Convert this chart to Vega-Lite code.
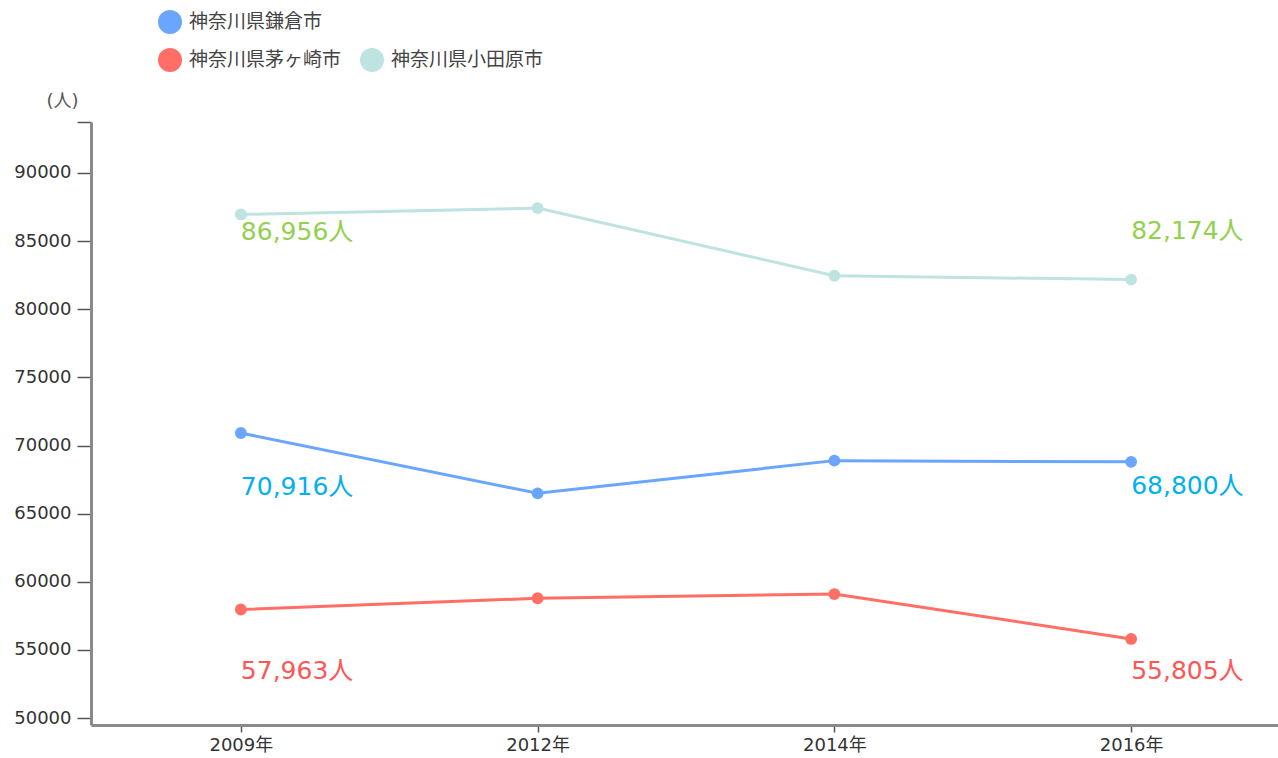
{
  "$schema": "https://vega.github.io/schema/vega-lite/v6.json",
  "width": 1190,
  "height": 603,
  "autosize": {"type": "none"},
  "padding": {"left": 91, "top": 122, "right": 0, "bottom": 33},
  "background": "white",
  "config": {
    "view": {"stroke": null},
    "axis": {"grid": false},
    "legend": {"padding": 0}
  },
  "data": {
    "values": [
      {"year": "2009年", "series": "神奈川県鎌倉市", "value": 70916},
      {"year": "2012年", "series": "神奈川県鎌倉市", "value": 66490},
      {"year": "2014年", "series": "神奈川県鎌倉市", "value": 68890},
      {"year": "2016年", "series": "神奈川県鎌倉市", "value": 68800},
      {"year": "2009年", "series": "神奈川県茅ヶ崎市", "value": 57963},
      {"year": "2012年", "series": "神奈川県茅ヶ崎市", "value": 58790},
      {"year": "2014年", "series": "神奈川県茅ヶ崎市", "value": 59100},
      {"year": "2016年", "series": "神奈川県茅ヶ崎市", "value": 55805},
      {"year": "2009年", "series": "神奈川県小田原市", "value": 86956},
      {"year": "2012年", "series": "神奈川県小田原市", "value": 87420},
      {"year": "2014年", "series": "神奈川県小田原市", "value": 82460},
      {"year": "2016年", "series": "神奈川県小田原市", "value": 82174}
    ]
  },
  "transform": [
    {"calculate": "format(datum.value, ',') + '人'", "as": "label"},
    {"calculate": "datum.series", "as": "city"}
  ],
  "encoding": {
    "x": {
      "field": "year",
      "type": "ordinal",
      "sort": ["2009年", "2012年", "2014年", "2016年"],
      "scale": {"type": "point", "padding": 0.505},
      "axis": {
        "title": null,
        "labelAngle": 0,
        "labelFont": "DejaVu Sans, Noto Sans CJK JP",
        "labelFontSize": 18,
        "labelColor": "#333333",
        "labelPadding": 4,
        "tickSize": 7,
        "tickColor": "#555555",
        "tickWidth": 1.5,
        "domainColor": "#8a8a8a",
        "domainWidth": 3
      }
    },
    "y": {
      "field": "value",
      "type": "quantitative",
      "scale": {"domain": [49490, 93740], "nice": false, "zero": false},
      "axis": {
        "title": "(人)",
        "titleAngle": 0,
        "titleX": -29,
        "titleY": -21,
        "titleAlign": "center",
        "titleBaseline": "middle",
        "titleFont": "DejaVu Sans, Noto Sans CJK JP",
        "titleFontSize": 18,
        "titleFontWeight": "normal",
        "titleColor": "#555555",
        "values": [50000, 55000, 60000, 65000, 70000, 75000, 80000, 85000, 90000, 93740],
        "labelExpr": "datum.value > 91000 ? '' : format(datum.value, 'd')",
        "labelFont": "DejaVu Sans",
        "labelFontSize": 18,
        "labelColor": "#333333",
        "labelPadding": 6,
        "tickSize": 14,
        "tickColor": "#555555",
        "tickWidth": 1.5,
        "domainColor": "#8a8a8a",
        "domainWidth": 3
      }
    }
  },
  "layer": [
    {
      "mark": {"type": "line", "strokeWidth": 3},
      "encoding": {
        "stroke": {
          "field": "series",
          "type": "nominal",
          "scale": {
            "domain": ["神奈川県鎌倉市", "神奈川県茅ヶ崎市", "神奈川県小田原市"],
            "range": ["#6aa5ff", "#ff6f66", "#bfe3e0"]
          },
          "legend": {
            "values": ["神奈川県鎌倉市"],
            "title": null,
            "orient": "none",
            "legendX": 67,
            "legendY": -112,
            "symbolType": "circle",
            "symbolSize": 576,
            "symbolFillColor": "#6aa5ff",
            "symbolStrokeWidth": 0,
            "labelFont": "Noto Sans CJK JP",
            "labelFontSize": 19,
            "labelColor": "#444444",
            "labelOffset": 7
          }
        }
      }
    },
    {
      "mark": {"type": "point", "filled": true, "size": 140, "opacity": 1},
      "encoding": {
        "fill": {
          "field": "city",
          "type": "nominal",
          "scale": {
            "domain": ["神奈川県茅ヶ崎市", "神奈川県小田原市", "神奈川県鎌倉市"],
            "range": ["#ff6f66", "#bfe3e0", "#6aa5ff"]
          },
          "legend": {
            "values": ["神奈川県茅ヶ崎市", "神奈川県小田原市"],
            "title": null,
            "orient": "none",
            "direction": "horizontal",
            "legendX": 67,
            "legendY": -74,
            "symbolType": "circle",
            "symbolSize": 576,
            "symbolStrokeWidth": 0,
            "symbolOpacity": 1,
            "columnPadding": 18,
            "labelFont": "Noto Sans CJK JP",
            "labelFontSize": 19,
            "labelColor": "#444444",
            "labelOffset": 7
          }
        }
      }
    },
    {
      "transform": [{"filter": "datum.series === '神奈川県小田原市' && datum.year === '2009年'"}],
      "mark": {"type": "text", "align": "left", "baseline": "middle", "font": "DejaVu Sans, Noto Sans CJK JP", "fontSize": 25, "dy": 18, "color": "#92d050"},
      "encoding": {"text": {"field": "label"}}
    },
    {
      "transform": [{"filter": "datum.series === '神奈川県小田原市' && datum.year === '2016年'"}],
      "mark": {"type": "text", "align": "left", "baseline": "middle", "font": "DejaVu Sans, Noto Sans CJK JP", "fontSize": 25, "dy": -49, "color": "#92d050"},
      "encoding": {"text": {"field": "label"}}
    },
    {
      "transform": [{"filter": "datum.series === '神奈川県鎌倉市' && datum.year === '2009年'"}],
      "mark": {"type": "text", "align": "left", "baseline": "middle", "font": "DejaVu Sans, Noto Sans CJK JP", "fontSize": 25, "dy": 54, "color": "#00b0f0"},
      "encoding": {"text": {"field": "label"}}
    },
    {
      "transform": [{"filter": "datum.series === '神奈川県鎌倉市' && datum.year === '2016年'"}],
      "mark": {"type": "text", "align": "left", "baseline": "middle", "font": "DejaVu Sans, Noto Sans CJK JP", "fontSize": 25, "dy": 24, "color": "#00b0f0"},
      "encoding": {"text": {"field": "label"}}
    },
    {
      "transform": [{"filter": "datum.series === '神奈川県茅ヶ崎市' && datum.year === '2009年'"}],
      "mark": {"type": "text", "align": "left", "baseline": "middle", "font": "DejaVu Sans, Noto Sans CJK JP", "fontSize": 25, "dy": 61, "color": "#ff5555"},
      "encoding": {"text": {"field": "label"}}
    },
    {
      "transform": [{"filter": "datum.series === '神奈川県茅ヶ崎市' && datum.year === '2016年'"}],
      "mark": {"type": "text", "align": "left", "baseline": "middle", "font": "DejaVu Sans, Noto Sans CJK JP", "fontSize": 25, "dy": 32, "color": "#ff5555"},
      "encoding": {"text": {"field": "label"}}
    }
  ]
}
